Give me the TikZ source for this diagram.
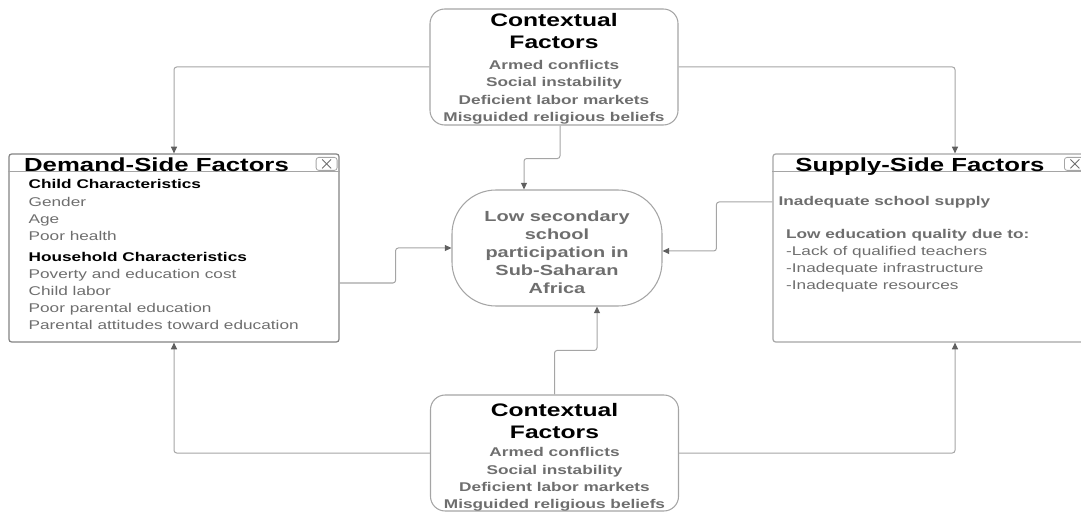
\documentclass[tikz,border=0pt]{standalone}
\usepackage{fontspec}
\setmainfont{Liberation Sans}[FakeStretch=1.36]
\usetikzlibrary{arrows.meta, positioning, calc}
\definecolor{mytext}{RGB}{110,110,110}
\definecolor{myline}{RGB}{165,165,165}
\definecolor{myborder}{RGB}{165,165,165}
\definecolor{mydark}{RGB}{95,95,95}
\definecolor{mybox}{RGB}{130,130,130}
\tikzset{
  ctxbox/.style={rectangle, draw=myborder, rounded corners=11pt, minimum width=186pt, minimum height=87pt, line width=0.8pt},
  sidebox/.style={rectangle, draw=mybox, minimum width=247.5pt, minimum height=141pt, rounded corners=2pt, line width=0.9pt},
  hubbox/.style={rectangle, draw=myborder, rounded corners=33pt, minimum width=157.5pt, minimum height=87pt, align=center, text=mytext, font=\fontsize{11}{13.5}\selectfont\bfseries, line width=0.8pt},
  title/.style={inner sep=0pt, align=center, font=\fontsize{14.2}{16.5}\selectfont\bfseries},
  ctxtitle/.style={inner sep=0pt, align=center, font=\fontsize{13.6}{16.5}\selectfont\bfseries},
  items/.style={inner sep=0pt, align=left, text=mytext, font=\fontsize{9.5}{12.75}\selectfont},
  ctxitems/.style={inner sep=0pt, align=center, text=mytext, font=\fontsize{9.5}{13}\selectfont\bfseries},
  closebox/.style={rectangle, draw=myborder, rounded corners=2pt, minimum width=15.75pt, minimum height=9.75pt, inner sep=0pt, line width=0.6pt},
  arrow/.style={-{Triangle[length=5pt, width=4.5pt, color=mydark]}, draw=myline, line width=0.75pt, rounded corners=2pt},
  line/.style={draw=myline, line width=0.6pt}
}
\begin{document}
\begin{tikzpicture}[x=0.75pt, y=-0.75pt]
  \clip (0,0) rectangle (1081,513);

  % Boxes
  \node[ctxbox] (ctop) at (554,67) {};
  \node[ctxbox] (cbot) at (554.5,453) {};
  \node[sidebox] (demand) at (174,248) {};
  \node[sidebox, draw=myborder, minimum width=273pt] (supply) at (955,248) {};
  \node[hubbox] (hub) at (557,248) {};
  \node[inner sep=0pt, align=center, text=mytext, font=\fontsize{11}{13.5}\selectfont\bfseries] (hubtext) at ($(hub.center)+(0,4)$) {Low secondary\\school\\participation in\\Sub-Saharan\\Africa};

  % Contextual factors (top and bottom)
  \node[ctxtitle, anchor=north] (ctoptitle) at ($(ctop.north)+(0,4.5)$) {Contextual\\Factors};
  \node[ctxitems, anchor=north] (ctopitems) at ($(ctop.north)+(0,51.5)$) {Armed conflicts\\Social instability\\Deficient labor markets\\Misguided religious beliefs};
  \node[ctxtitle, anchor=north] (cbottitle) at ($(cbot.north)+(0,8.5)$) {Contextual\\Factors};
  \node[ctxitems, anchor=north] (cbotitems) at ($(cbot.north)+(0,53)$) {Armed conflicts\\Social instability\\Deficient labor markets\\Misguided religious beliefs};

  % Demand side
  \draw[line] ($(demand.north west)+(0,18)$) -- ($(demand.north east)+(0,18)$);
  \node[title, anchor=north] (dtitle) at ($(demand.north)+(-17.5,4.3)$) {Demand-Side Factors};
  \node[closebox] (dclose) at ($(demand.north east)+(-13,10.5)$) {};
  \draw[line, draw=mytext] ($(dclose.center)+(-4.5,-4.5)$) -- ($(dclose.center)+(4.5,4.5)$);
  \draw[line, draw=mytext] ($(dclose.center)+(-4.5,4.5)$) -- ($(dclose.center)+(4.5,-4.5)$);
  \node[items, anchor=north west] (dbody) at ($(demand.north west)+(20,26)$) {{\color{black}\bfseries Child Characteristics}\\[0.75pt]Gender\\Age\\Poor health\\[3pt]{\color{black}\bfseries Household Characteristics}\\Poverty and education cost\\Child labor\\Poor parental education\\Parental attitudes toward education};

  % Supply side
  \draw[line] ($(supply.north west)+(0,18)$) -- ($(supply.north east)+(0,18)$);
  \node[title, anchor=north] (stitle) at ($(supply.north west)+(147.5,4.3)$) {Supply-Side Factors};
  \node[closebox] (sclose) at ($(supply.north west)+(302.5,10.5)$) {};
  \draw[line, draw=mytext] ($(sclose.center)+(-4.5,-4.5)$) -- ($(sclose.center)+(4.5,4.5)$);
  \draw[line, draw=mytext] ($(sclose.center)+(-4.5,4.5)$) -- ($(sclose.center)+(4.5,-4.5)$);
  \node[items, anchor=north west, font=\fontsize{9.5}{12.75}\selectfont\bfseries] (sbody) at ($(supply.north west)+(6,42.4)$) {Inadequate school supply};
  \node[items, anchor=north west] (squality) at ($(supply.north west)+(13.5,75.4)$) {{\bfseries Low education quality due to:}\\-Lack of qualified teachers\\-Inadequate infrastructure\\-Inadequate resources};

  % Connectors
  \draw[arrow] (ctop.west) -| (demand.north);
  \draw[arrow] (ctop.east) -| (supply.north);
  \draw[arrow] ($(ctop.south)+(6,0)$) -- ++(0,33) -| ($(hub.north)+(-33,0)$);
  \draw[arrow] ($(demand.east)+(0,35)$) -- ++(56,0) |- (hub.west);
  \draw[arrow] ($(supply.west)+(0,-46)$) -- ++(-56,0) |- ($(hub.east)+(0,3)$);
  \draw[arrow] (cbot.north) -- ++(0,-44) -| ($(hub.south)+(40,0)$);
  \draw[arrow] (cbot.west) -| (demand.south);
  \draw[arrow] (cbot.east) -| (supply.south);
\end{tikzpicture}
\end{document}
